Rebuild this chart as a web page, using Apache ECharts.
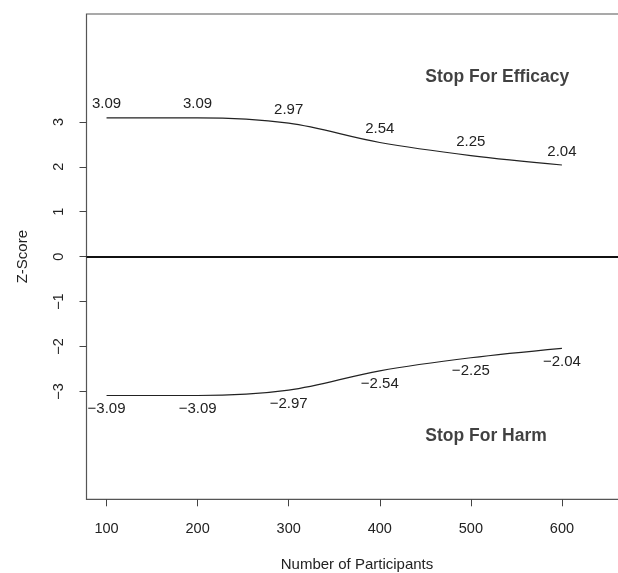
<!DOCTYPE html>
<html>
<head>
<meta charset="utf-8">
<script src="https://cdn.jsdelivr.net/npm/echarts@6/dist/echarts.min.js"></script>
<style>
html,body{margin:0;padding:0;background:#fff;}
#chart{width:618px;height:573px;}
</style>
</head>
<body>
<div id="chart"></div>
<script>
// Data
const participants = [100, 200, 300, 400, 500, 600];
const efficacyBound = [3.09, 3.09, 2.97, 2.54, 2.25, 2.04];
const harmBound = [-3.09, -3.09, -2.97, -2.54, -2.25, -2.04];
const xTicks = [100, 200, 300, 400, 500, 600];
const yTicks = [-3, -2, -1, 0, 1, 2, 3];
const annoX = [450, 450];
const annoY = [4, -4];
const annoText = ['Stop For Efficacy', 'Stop For Harm'];

const fmt = v => {
  const s = Math.abs(v).toFixed(2);
  return v < 0 ? '\u2212' + s : s;
};
const fmtInt = v => (v < 0 ? '\u2212' + Math.abs(v) : String(v));

const chart = echarts.init(document.getElementById('chart'), null, {renderer: 'canvas'});
const font = 'Liberation Sans, Arial, sans-serif';
const txt = '#222';

const lineSeries = (vals, pos) => ({
  type: 'line',
  data: participants.map((x, i) => [x, vals[i]]),
  smooth: 0.35,
  showSymbol: true,
  symbol: 'circle',
  symbolSize: 0.01,
  lineStyle: {color: '#222', width: 1.2},
  itemStyle: {color: '#222'},
  label: {
    show: true,
    position: pos,
    distance: 6,
    color: txt,
    fontFamily: font,
    fontSize: 15,
    formatter: p => fmt(p.value[1])
  },
  silent: true,
  animation: false
});

const effSeries = lineSeries(efficacyBound, 'top');
effSeries.markLine = {
  silent: true,
  symbol: 'none',
  label: {show: false},
  lineStyle: {color: '#111', width: 2, type: 'solid'},
  data: [{yAxis: 0}]
};

chart.setOption({
  animation: false,
  backgroundColor: '#fff',
  grid: {
    left: 86.5, width: 541, top: 14, height: 485.3,
    outerBoundsMode: 'none',
    containLabel: false,
    show: true, borderColor: '#555', borderWidth: 1.2,
    backgroundColor: 'transparent'
  },
  xAxis: {
    type: 'value',
    min: 78, max: 672,
    name: 'Number of Participants',
    nameLocation: 'middle',
    nameGap: 58,
    nameTextStyle: {color: txt, fontFamily: font, fontSize: 15},
    axisLine: {show: false, onZero: false},
    axisTick: {show: true, length: 7, lineStyle: {color: '#444'}, customValues: xTicks},
    axisLabel: {color: txt, fontFamily: font, fontSize: 14.5, margin: 22, customValues: xTicks},
    splitLine: {show: false}
  },
  yAxis: {
    type: 'value',
    min: -5.4, max: 5.4,
    name: 'Z-Score',
    nameLocation: 'middle',
    nameGap: 56,
    nameRotate: 90,
    nameTextStyle: {color: txt, fontFamily: font, fontSize: 15},
    axisLine: {show: false, onZero: false},
    axisTick: {show: true, length: 7, lineStyle: {color: '#444'}, customValues: yTicks},
    axisLabel: {color: txt, fontFamily: font, fontSize: 14.5, margin: 20, rotate: 90, customValues: yTicks, formatter: v => fmtInt(v)},
    splitLine: {show: false}
  },
  series: [
    effSeries,
    lineSeries(harmBound, 'bottom'),
    {
      type: 'scatter',
      data: annoX.map((x, i) => ({value: [x, annoY[i]], name: annoText[i]})),
      symbolSize: 0.01,
      itemStyle: {color: 'transparent'},
      label: {
        show: true,
        position: 'right',
        distance: 0,
        formatter: p => p.name,
        color: '#111',
        fontFamily: font,
        fontSize: 17.5,
        fontWeight: 'bold'
      },
      silent: true
    }
  ]
});
</script>
</body>
</html>
